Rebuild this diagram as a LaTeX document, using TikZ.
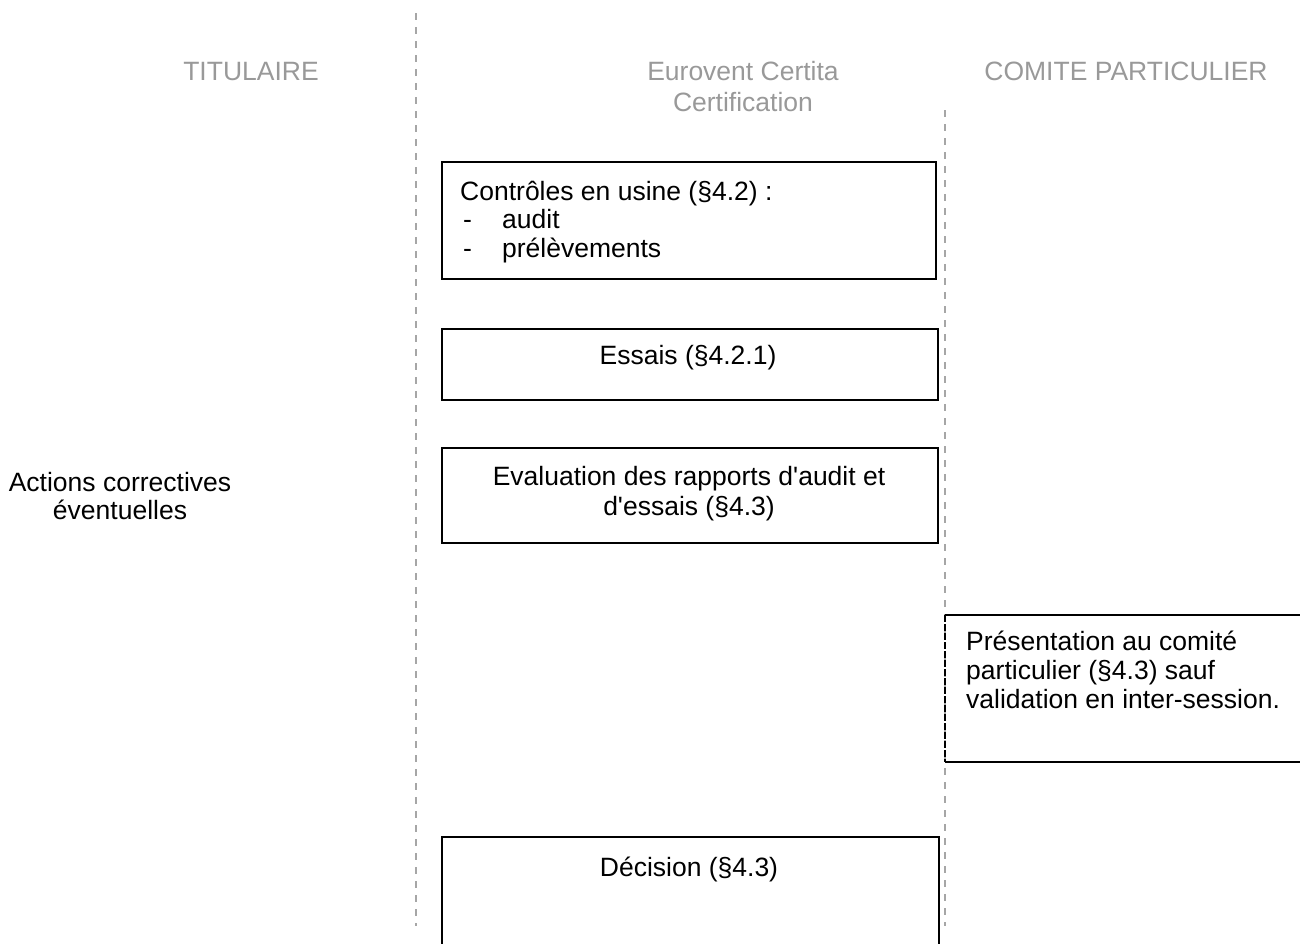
\documentclass[tikz,border=0pt]{standalone}
\usepackage{fontspec}
\setmainfont{Liberation Sans}
\definecolor{headgray}{HTML}{999999}
\definecolor{lanegray}{HTML}{A6A6A6}
\begin{document}
\begin{tikzpicture}[x=1pt,y=-1pt,
  lane/.style={draw=lanegray,line width=1.8pt,dash pattern=on 7pt off 7pt},
  head/.style={text=headgray,font=\fontsize{26.5}{31}\selectfont,align=center,anchor=base,inner sep=0pt},
  txt/.style={font=\fontsize{26.5}{29}\selectfont,inner sep=0pt,anchor=base},
  box/.style={draw=black,line width=2pt,inner sep=0pt,anchor=north west}]
\useasboundingbox (0,0) rectangle (1300,943);
\clip (0,0) rectangle (1300,943);
% swimlane separators
\coordinate (l1top) at (416,13);
\coordinate (l1bot) at (416,926);
\coordinate (l2top) at (945,110);
\coordinate (l2bot) at (945,926);
\draw[lane] (l1top) -- (l1bot);
\draw[lane] (l2top) -- (l2bot);
% headers (multi-line nodes: base = last line)
\node[head] (hTit) at (251,80) {TITULAIRE};
\node[head] (hEur) at (743,111) {Eurovent Certita\\Certification};
\node[head] (hCom) at (1126,80) {COMITE PARTICULIER};
% left text
\node[txt,align=center,font=\fontsize{26.5}{28}\selectfont] (act) at (120,519) {Actions correctives\\éventuelles};
% boxes
\node[box,minimum width=494pt,minimum height=117pt] (ctrl) at (441,161) {};
\node[txt,anchor=base west,align=left,font=\fontsize{26.5}{28.5}\selectfont] (ctrlT) at (460,257)
  {Contrôles en usine (§4.2) :\\\hspace*{3pt}\makebox[39pt][l]{-}audit\\\hspace*{3pt}\makebox[39pt][l]{-}prélèvements};
\node[box,minimum width=496pt,minimum height=71pt] (ess) at (441,328) {};
\node[txt] (essT) at (688,364) {Essais (§4.2.1)};
\node[box,minimum width=496pt,minimum height=95pt] (eva) at (441,447) {};
\node[txt,align=center,font=\fontsize{26.5}{30}\selectfont] (evaT) at (689,515) {Evaluation des rapports d\textquotesingle audit et\\d\textquotesingle essais (§4.3)};
\node[box,minimum width=497pt,minimum height=140pt] (dec) at (441,836) {};
\node[txt] (decT) at (689,876) {Décision (§4.3)};
% presentation box (open on the right, dashed left edge)
\coordinate (pTL) at (945,615);
\coordinate (pBL) at (945,762);
\coordinate (pTR) at (1310,615);
\coordinate (pBR) at (1310,762);
\draw[line width=2pt] (pTL) -- (pTR);
\draw[line width=2pt] (pBL) -- (pBR);
\draw[line width=1.8pt,dash pattern=on 7pt off 2pt] (pTL) -- (pBL);
\node[txt,anchor=base west,align=left,font=\fontsize{26.5}{29}\selectfont] (presT) at (966,708)
  {Présentation au comité\\particulier (§4.3) sauf\\validation en inter-session.};
\end{tikzpicture}
\end{document}
